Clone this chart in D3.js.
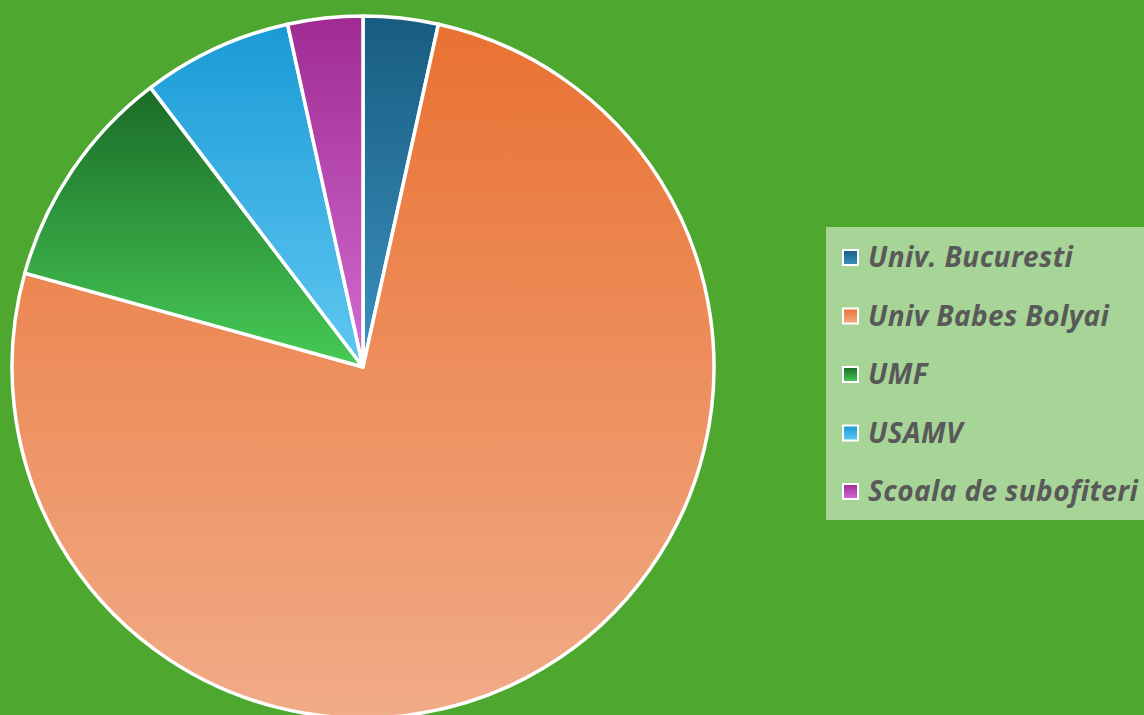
<!DOCTYPE html>
<html>
<head>
<meta charset="utf-8">
<script src="https://cdn.jsdelivr.net/npm/d3@7"></script>
<style>
  html, body { margin: 0; padding: 0; background: #4ea72e; overflow: hidden; }
  text { font-family: "Open Sans", Roboto, sans-serif; }
</style>
</head>
<body>
<div class="chart"></div>
<script>
var width = 1144, height = 715;

// data
var categories = ["Univ. Bucuresti", "Univ Babes Bolyai", "UMF", "USAMV", "Scoala de subofiteri"];
var values = [1, 22, 3, 2, 1];
var topColors = ["#185c80", "#e97132", "#1a6b27", "#1a9ad6", "#9f2b92"];
var bottomColors = ["#3b92c0", "#f1ac88", "#47cb56", "#60c8f1", "#d26dd2"];

var svg = d3.select(".chart")
    .append("svg")
    .attr("width", width)
    .attr("height", height);

var defs = svg.append("defs");
categories.forEach(function(c, i) {
  var g = defs.append("linearGradient")
      .attr("id", "grad" + i)
      .attr("x1", 0).attr("y1", 0).attr("x2", 0).attr("y2", 1);
  g.append("stop").attr("offset", "0%").attr("stop-color", topColors[i]);
  g.append("stop").attr("offset", "100%").attr("stop-color", bottomColors[i]);
});

var cx = 363, cy = 367, radius = 351;

var pie = d3.pie().sort(null).value(function(d) { return d; });
var arc = d3.arc().innerRadius(0).outerRadius(radius);

svg.append("g")
    .attr("transform", "translate(" + cx + "," + cy + ")")
  .selectAll("path")
    .data(pie(values))
    .enter().append("path")
    .attr("d", arc)
    .attr("fill", function(d, i) { return "url(#grad" + i + ")"; })
    .attr("stroke", "#fff")
    .attr("stroke-width", 3.5)
    .attr("stroke-linejoin", "round");

// legend
var legend = svg.append("g");
legend.append("rect")
    .attr("x", 826).attr("y", 227)
    .attr("width", 330).attr("height", 293)
    .attr("fill", "#a7d497");

var ly = d3.scalePoint().domain(categories).range([257, 491]);

var item = legend.selectAll(".item")
    .data(categories)
    .enter().append("g")
    .attr("class", "item")
    .attr("transform", function(d) { return "translate(0," + ly(d) + ")"; });

item.append("rect")
    .attr("x", 843).attr("y", -7)
    .attr("width", 15).attr("height", 15)
    .attr("fill", function(d, i) { return "url(#grad" + i + ")"; })
    .attr("stroke", "#fff")
    .attr("stroke-width", 2);

item.append("text")
    .attr("x", 868).attr("y", 0)
    .attr("dy", "0.36em")
    .attr("fill", "#595959")
    .style("font-size", "28px")
    .style("font-weight", "bold")
    .style("font-style", "italic")
    .style("letter-spacing", "0.4px")
    .text(function(d) { return d; });
</script>
</body>
</html>
